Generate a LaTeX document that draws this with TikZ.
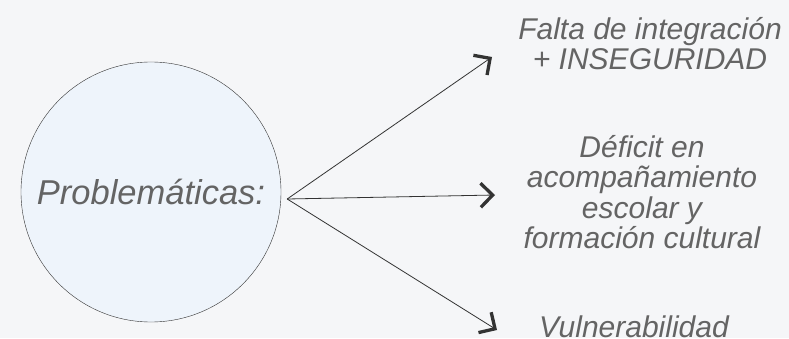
\documentclass[tikz,border=0pt]{standalone}
\usepackage{fontspec}
\setsansfont{Liberation Sans}
\usetikzlibrary{arrows.meta,positioning}

\definecolor{bggray}{HTML}{F5F6F8}
\definecolor{circfill}{HTML}{EEF4FB}
\definecolor{txtgray}{HTML}{646464}
\definecolor{linegray}{HTML}{333333}

\begin{document}
\begin{tikzpicture}[
    x=1pt, y=1pt,
    font=\sffamily\itshape,
    probcircle/.style={
        draw=linegray,
        fill=circfill,
        circle,
        minimum size=260pt,
        inner sep=0pt,
        text=txtgray,
        font=\sffamily\itshape\fontsize{34.5}{36}\selectfont
    },
    itemtext/.style={
        text=txtgray,
        align=center,
        inner sep=0pt,
        font=\sffamily\itshape\fontsize{30}{30.5}\selectfont
    },
    arrow/.style={-{Straight Barb[length=12pt,width=24pt,line width=3.3pt 0 1]}, draw=linegray, line width=0.8pt}
]

\clip (0,0) rectangle (789,338);
\fill[bggray] (0,0) rectangle (789,338);

\node[probcircle] (prob) at (151,146) {Problemáticas:};
\coordinate (hub) at ([xshift=6pt,yshift=-7pt]prob.east);

\node[itemtext] (falta) at (650,294.5) {Falta de integración\\+ INSEGURIDAD};
\node[itemtext] (deficit) at (642,146) {Déficit en\\acompañamiento\\escolar y\\formación cultural};
\node[itemtext] (vulner) at (634,11) {Vulnerabilidad};

\coordinate (tipA) at (492,281);
\coordinate (tipB) at (495,143);
\coordinate (tipC) at (497,8);

\draw[arrow] (hub) -- (tipA);
\draw[arrow] (hub) -- (tipB);
\draw[arrow] (hub) -- (tipC);

\end{tikzpicture}
\end{document}
